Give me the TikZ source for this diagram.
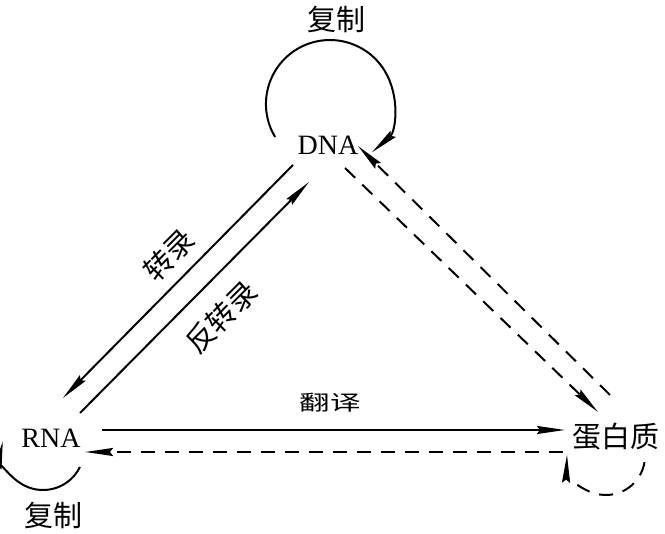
\documentclass[tikz,border=0pt]{standalone}
\usepackage{fontspec}
\setmainfont{Liberation Serif}
\newfontfamily\cjk{Noto Sans CJK SC}
\usetikzlibrary{arrows.meta}
\begin{document}
\begin{tikzpicture}[x=1pt,y=1pt,
  lbl/.style={font=\fontsize{28}{30}\selectfont, inner sep=0pt},
  zh/.style={font=\cjk\fontsize{29}{30}\selectfont, inner sep=0pt},
  ln/.style={line width=2pt},
  tipa/.style={-{Stealth[length=28pt,width=8pt,inset=3pt]}},
  dsh/.style={dash pattern=on 14pt off 10pt}]
\useasboundingbox (0,0) rectangle (665,534);
% nodes
\node[lbl] (dna) at (328,389) {DNA};
\node[lbl] (rna) at (51,96) {RNA};
\node[zh] (pro) at (616,97) {蛋白质};
\node[zh] (fz1) at (336,515) {复制};
\node[zh] (fz2) at (53,19) {复制};
\node[zh] (fy) at (330,131) {\scalebox{1.05}[0.72]{翻译}};
\node[zh, rotate=45, inner sep=-3pt] (zl) at (169,279) {转录};
\node[zh, rotate=45, inner sep=-3pt] (fzl) at (221,217) {反转录};
% endpoints
\coordinate (t1) at (293,369); \coordinate (t2) at (63,136);
\coordinate (r1) at (80,121);  \coordinate (r2) at (309,352);
\coordinate (y1) at (102,104); \coordinate (y2) at (565,104);
\coordinate (b1) at (563,82);  \coordinate (b2) at (85,82);
\coordinate (d1) at (345,366); \coordinate (d2) at (598,122);
\coordinate (p1) at (610,139); \coordinate (p2) at (358,388);
\coordinate (dl) at (275.1,397);
\coordinate (pl) at (644.5,71.9);
\coordinate (rl) at (79.9,67);
% connectors
\draw[ln,tipa] (t1) -- (t2);
\draw[ln,tipa] (r1) -- (r2);
\draw[ln,tipa] (y1) -- (y2);
\draw[ln,tipa,dsh] (b1) -- (b2);
\draw[ln,tipa,dsh] (d1) -- (d2);
\draw[ln,tipa,dsh] (p1) -- (p2);
% loops
\draw[ln,tipa] (dl) arc[start angle=211,end angle=-49,radius=64];
\draw[ln,tipa,dsh] (pl) arc[start angle=-9,end angle=-182,radius=39];
\draw[ln,tipa] (rl) arc[start angle=-26,end angle=-191,radius=41];
\end{tikzpicture}
\end{document}
